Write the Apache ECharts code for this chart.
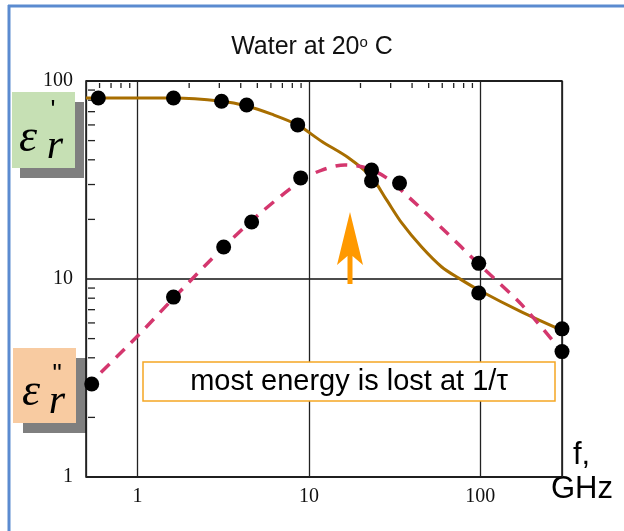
<!DOCTYPE html>
<html>
<head>
<meta charset="utf-8">
<script src="https://cdn.jsdelivr.net/npm/echarts@6/dist/echarts.min.js"></script>
<style>
  html, body { margin: 0; padding: 0; background: #fff; }
  #chart { width: 624px; height: 531px; }
</style>
</head>
<body>
<div id="chart"></div>
<script>
// frequency in GHz, permittivity values
const realPointFreq = [0.59, 1.62, 3.09, 4.33, 8.6, 23.2, 98, 300];
const realPointVals = [82, 82, 79, 75.7, 60, 31.3, 8.5, 5.6];
const imagPointFreq = [0.54, 1.62, 3.18, 4.63, 8.95, 23.2, 33.8, 98, 300];
const imagPointVals = [2.95, 8.1, 14.5, 19.4, 32.4, 35.5, 30.5, 12, 4.3];

// model curves (traced)
const realCurveFreq = [0.5, 1.62, 3.09, 4.33, 6.06, 8.59, 11.9, 17, 23.2, 28.4, 34.8, 45.5, 59.6, 74.8, 97.9, 175, 300];
const realCurveVals = [82, 82, 79, 74.8, 68, 60, 49.5, 41, 32.7, 25.1, 19.2, 14.5, 11.5, 10.1, 8.8, 6.8, 5.5];
const imagCurveFreq = [0.5, 1, 1.62, 3.18, 5.3, 9.1, 11.9, 16.2, 21.7, 28.4, 39.8, 59.6, 99, 175, 300];
const imagCurveVals = [2.85, 5.15, 8.0, 14.5, 21.8, 31.6, 35.5, 37.7, 36.4, 32.4, 25.1, 18.1, 11.8, 7.4, 4.28];

const xLabels = [1, 10, 100];
const yLabels = [1, 10, 100];
const topMinorTicks = [0.6, 0.7, 0.8, 0.9, 2, 3, 4, 5, 6, 7, 8, 9, 20, 30, 40, 50, 60, 70, 80, 90];
const leftMinorTicks = [2, 3, 4, 5, 6, 7, 8, 9, 20, 30, 40, 50, 60, 70, 80, 90];

const X_MIN = 0.5, X_MAX = 300, Y_MIN = 1, Y_MAX = 100;

function pairs(xs, ys) {
  return xs.map((x, i) => [x, ys[i]]);
}

function isLabel(list, v) {
  return list.some(l => Math.abs(Math.log10(v) - Math.log10(l)) < 1e-6);
}

const chart = echarts.init(document.getElementById('chart'));

chart.setOption({
  animation: false,
  title: {
    text: 'Water at 20{s|o} C',
    left: 'center',
    top: 30,
    textStyle: {
      fontFamily: 'Liberation Sans',
      fontSize: 25,
      fontWeight: 'normal',
      color: '#111',
      rich: {
        s: { fontFamily: 'Liberation Sans', fontSize: 15, color: '#111', verticalAlign: 'top', lineHeight: 15 }
      }
    }
  },
  grid: {
    left: 86, top: 81, right: 62, bottom: 54,
    show: true, borderColor: '#111', borderWidth: 1.5, backgroundColor: 'transparent'
  },
  xAxis: {
    type: 'log', logBase: 10, min: X_MIN, max: X_MAX,
    axisLine: { show: false },
    axisTick: { show: false },
    splitLine: { show: true, lineStyle: { color: '#222', width: 1.3 } },
    axisLabel: {
      margin: 10,
      color: '#111',
      fontFamily: 'Liberation Serif',
      fontSize: 20,
      showMinLabel: true, showMaxLabel: true,
      formatter: v => isLabel(xLabels, v) ? String(Math.round(v)) : ''
    }
  },
  yAxis: {
    type: 'log', logBase: 10, min: Y_MIN, max: Y_MAX,
    axisLine: { show: false },
    axisTick: { show: false },
    splitLine: { show: true, lineStyle: { color: '#111', width: 1.6 } },
    axisLabel: {
      margin: 13,
      color: '#111',
      fontFamily: 'Liberation Serif',
      fontSize: 20,
      formatter: v => isLabel(yLabels, v) ? String(Math.round(v)) : ''
    }
  },
  series: [
    {
      // small ticks along the top edge
      type: 'custom',
      silent: true,
      clip: false,
      data: topMinorTicks.map(v => [v, Y_MAX]),
      renderItem: (params, api) => {
        const p = api.coord([api.value(0), api.value(1)]);
        return {
          type: 'line',
          shape: { x1: p[0], y1: p[1] + 2, x2: p[0], y2: p[1] + 7 },
          style: { stroke: '#222', lineWidth: 1.3 }
        };
      }
    },
    {
      // small ticks along the left edge
      type: 'custom',
      silent: true,
      clip: false,
      data: leftMinorTicks.map(v => [X_MIN, v]),
      renderItem: (params, api) => {
        const p = api.coord([api.value(0), api.value(1)]);
        return {
          type: 'line',
          shape: { x1: p[0] + 2, y1: p[1], x2: p[0] + 9, y2: p[1] },
          style: { stroke: '#222', lineWidth: 1.3 }
        };
      }
    },
    {
      name: "eps'",
      type: 'line',
      smooth: 0.3,
      showSymbol: false,
      data: pairs(realCurveFreq, realCurveVals),
      lineStyle: { color: '#A86E00', width: 3 },
      z: 3
    },
    {
      name: "eps''",
      type: 'line',
      smooth: 0.3,
      showSymbol: false,
      data: pairs(imagCurveFreq, imagCurveVals),
      lineStyle: { color: '#D4376E', width: 3.5, type: [12, 9] },
      z: 3
    },
    {
      type: 'scatter',
      symbolSize: 15,
      data: pairs(realPointFreq, realPointVals),
      itemStyle: { color: '#000', opacity: 1 },
      z: 5
    },
    {
      type: 'scatter',
      symbolSize: 15,
      data: pairs(imagPointFreq, imagPointVals),
      itemStyle: { color: '#000', opacity: 1 },
      z: 5
    }
  ],
  graphic: [
    // slide frame
    { type: 'line', shape: { x1: 8, y1: 6, x2: 624, y2: 6 }, style: { stroke: '#5B8BD0', lineWidth: 3 } },
    { type: 'line', shape: { x1: 9, y1: 5, x2: 9, y2: 531 }, style: { stroke: '#5B8BD0', lineWidth: 3 } },

    // eps' tag
    { type: 'rect', shape: { x: 20, y: 102, width: 64, height: 76 }, style: { fill: '#7F7F7F' }, z: -1 },
    { type: 'rect', shape: { x: 12, y: 92, width: 63, height: 76 }, style: { fill: '#C6E0B4' }, z: -1 },
    { type: 'text', x: 28, y: 139, style: { text: 'ε', font: 'italic 46px "Liberation Serif"', fill: '#000', textAlign: 'center', textVerticalAlign: 'middle' } },
    { type: 'text', x: 55, y: 147, style: { text: 'r', font: 'italic 42px "Liberation Serif"', fill: '#000', textAlign: 'center', textVerticalAlign: 'middle' } },
    { type: 'text', x: 53, y: 111, style: { text: "'", font: '26px "Liberation Sans"', fill: '#000', textAlign: 'center', textVerticalAlign: 'middle' } },

    // eps'' tag
    { type: 'rect', shape: { x: 23, y: 358, width: 63, height: 75 }, style: { fill: '#7F7F7F' }, z: -1 },
    { type: 'rect', shape: { x: 13, y: 348, width: 63, height: 75 }, style: { fill: '#F8CBA1' }, z: -1 },
    { type: 'text', x: 31, y: 393, style: { text: 'ε', font: 'italic 46px "Liberation Serif"', fill: '#000', textAlign: 'center', textVerticalAlign: 'middle' } },
    { type: 'text', x: 57, y: 402, style: { text: 'r', font: 'italic 42px "Liberation Serif"', fill: '#000', textAlign: 'center', textVerticalAlign: 'middle' } },
    { type: 'text', x: 57, y: 375, style: { text: '"', font: '26px "Liberation Sans"', fill: '#000', textAlign: 'center', textVerticalAlign: 'middle' } },

    // note box
    { type: 'rect', shape: { x: 143, y: 362, width: 412, height: 39 }, style: { fill: '#fff', stroke: '#F5A623', lineWidth: 1.5 }, z: 10 },
    { type: 'text', x: 349, y: 382, style: { text: 'most energy is lost at 1/τ', font: '29px "Liberation Sans"', fill: '#000', textAlign: 'center', textVerticalAlign: 'middle' }, z: 11 },

    // arrow
    {
      type: 'polygon', z: 10,
      shape: { points: [[350, 212], [363, 265], [352.5, 256], [352.5, 284], [347.5, 284], [347.5, 256], [337, 265]] },
      style: { fill: '#FF9900' }
    },

    // axis unit
    { type: 'text', x: 573, y: 455, style: { text: 'f,', font: '31px "Liberation Sans"', fill: '#000', textAlign: 'left', textVerticalAlign: 'middle' } },
    { type: 'text', x: 551, y: 489, style: { text: 'GHz', font: '31px "Liberation Sans"', fill: '#000', textAlign: 'left', textVerticalAlign: 'middle' } }
  ]
});
</script>
</body>
</html>
